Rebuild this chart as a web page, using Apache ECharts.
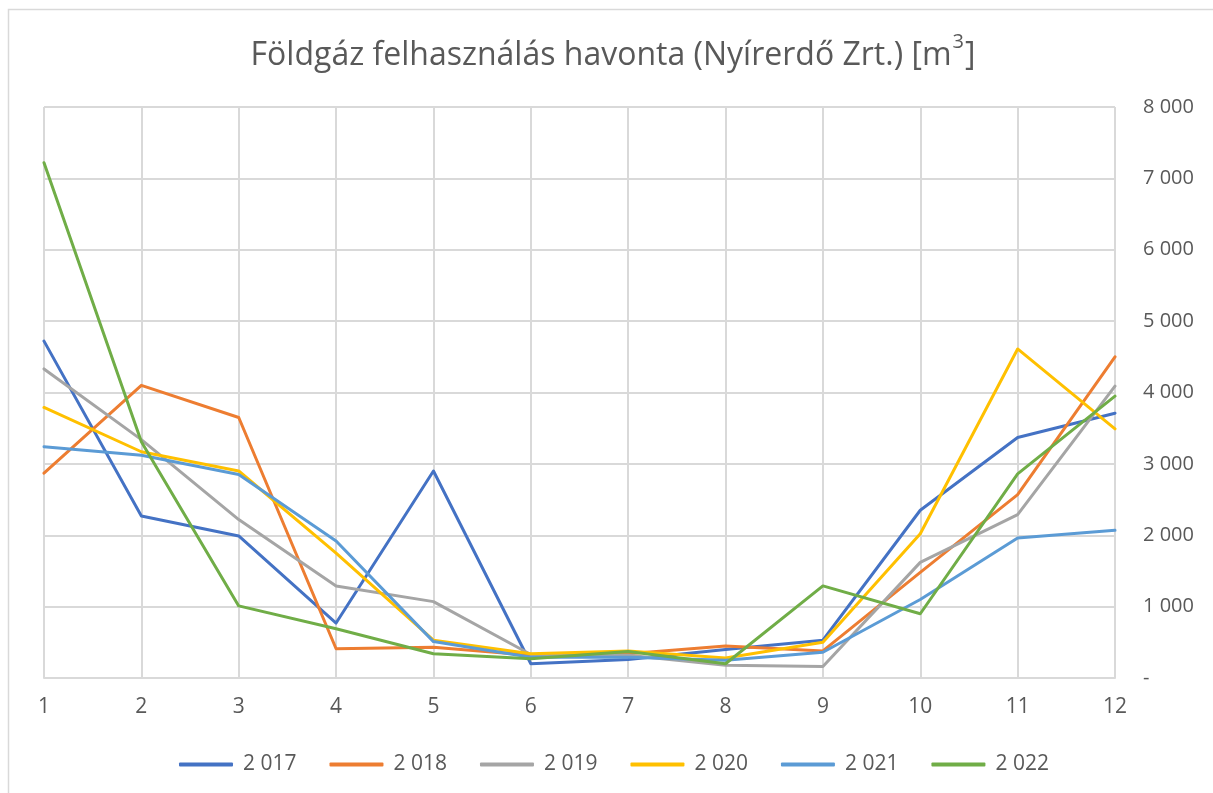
<!DOCTYPE html>
<html>
<head>
<meta charset="utf-8">
<script src="https://cdn.jsdelivr.net/npm/echarts@6/dist/echarts.min.js"></script>
<style>html,body{margin:0;padding:0;background:#fff;}#c{width:1213px;height:793px;}</style>
</head>
<body>
<div id="c"></div>
<script>
const months = ['1','2','3','4','5','6','7','8','9','10','11','12'];
const s2017 = [4720, 2270, 1990, 770, 2900, 200, 260, 400, 530, 2350, 3370, 3710];
const s2018 = [2870, 4100, 3650, 410, 430, 320, 340, 450, 380, 1480, 2570, 4500];
const s2019 = [4330, 3340, 2220, 1290, 1070, 330, 320, 180, 160, 1620, 2290, 4090];
const s2020 = [3790, 3170, 2900, 1750, 530, 340, 380, 280, 500, 2020, 4610, 3490];
const s2021 = [3240, 3120, 2850, 1920, 510, 290, 290, 250, 360, 1100, 1960, 2070];
const s2022 = [7220, 3310, 1010, 690, 340, 270, 370, 200, 1290, 900, 2860, 3950];
const seriesNames = ['2 017','2 018','2 019','2 020','2 021','2 022'];
const seriesData = [s2017, s2018, s2019, s2020, s2021, s2022];
const colors = ['#4472C4','#ED7D31','#A5A5A5','#FFC000','#5B9BD5','#70AD47'];
const titleText = 'Földgáz felhasználás havonta (Nyírerdő Zrt.) [m';

const FONT = 'Open Sans';
const TXT = '#595959';
const chart = echarts.init(document.getElementById('c'));
chart.setOption({
  animation: false,
  color: colors,
  graphic: [{
    type: 'rect', shape: {x: 8.5, y: 9.5, width: 1230, height: 820},
    style: {fill: 'none', stroke: '#D9D9D9', lineWidth: 1.5}, silent: true
  }, {
    type: 'text', x: 613, y: 52,
    style: {
      text: '{t|' + titleText + '}{s|3}{t|]}',
      align: 'center', verticalAlign: 'middle',
      rich: {
        t: {fontFamily: FONT, fontSize: 32, fill: TXT, lineHeight: 40, verticalAlign: 'bottom'},
        s: {fontFamily: FONT, fontSize: 20, fill: TXT, lineHeight: 40, verticalAlign: 'top', padding: [0,1,15,1]}
      }
    }
  }],
  grid: {left: 44, right: 98, top: 107, bottom: 115},
  legend: {
    top: 749, left: 174,
    itemWidth: 54, itemHeight: 4, itemGap: 33, icon: 'roundRect',
    textStyle: {fontFamily: FONT, fontSize: 21, color: TXT, padding: [0,0,0,5]},
    data: seriesNames
  },
  xAxis: {
    type: 'category', data: months, boundaryGap: false,
    axisLine: {lineStyle: {color: '#D9D9D9', width: 2}},
    axisTick: {show: false},
    axisLabel: {fontFamily: FONT, fontSize: 21, color: TXT, margin: 19},
    splitLine: {show: true, lineStyle: {color: '#D9D9D9', width: 2}}
  },
  yAxis: {
    type: 'value', position: 'right', min: 0, max: 8000, interval: 1000,
    axisLine: {show: false}, axisTick: {show: false},
    axisLabel: {
      fontFamily: FONT, fontSize: 20, color: TXT, margin: 28, align: 'left',
      formatter: v => v === 0 ? '-' : String(v).replace(/\B(?=(\d{3})+(?!\d))/g, ' ')
    },
    splitLine: {lineStyle: {color: '#D9D9D9', width: 2}}
  },
  series: seriesNames.map((n, i) => ({
    name: n, type: 'line', data: seriesData[i], symbol: 'none',
    lineStyle: {width: 3, color: colors[i], cap: 'round', join: 'round'},
    itemStyle: {color: colors[i]}
  }))
});
</script>
</body>
</html>
